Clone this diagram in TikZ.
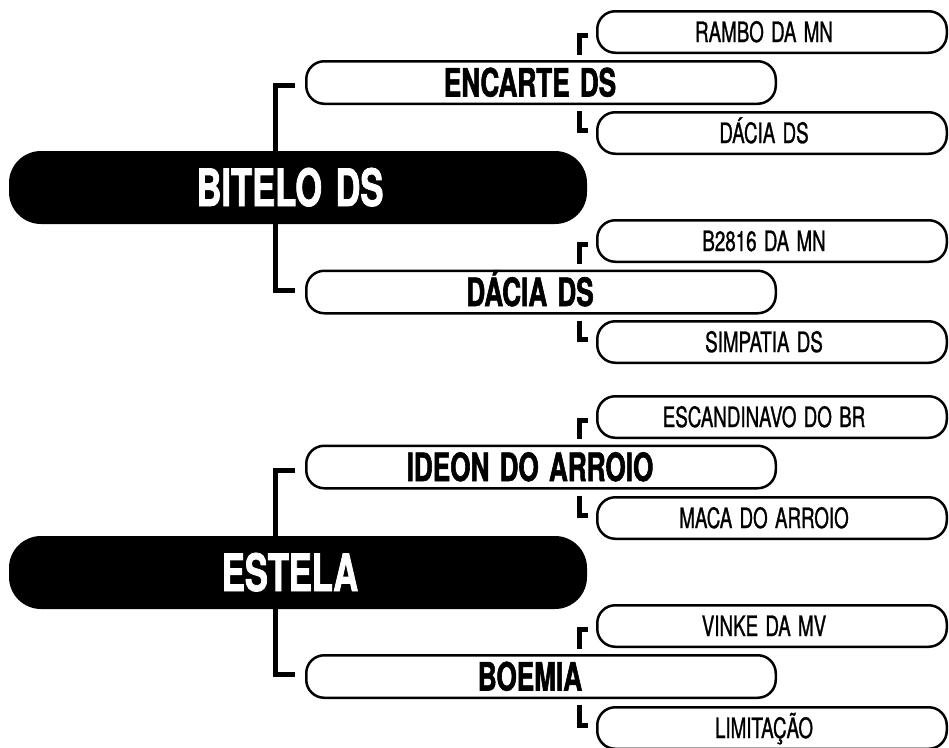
\documentclass[tikz,border=0pt]{standalone}
\usepackage{fontspec}
\newfontfamily\cond{TeX Gyre Heros}[FakeStretch=0.67, FakeBold=1, BoldFeatures={FakeBold=1.5}, WordSpace=1.4]
\usetikzlibrary{positioning}
\pgfdeclarelayer{background}
\pgfsetlayers{background,main}
\tikzset{%
% Specifications for style of boxes:
base/.style = {rectangle, inner sep=0pt, text depth=0pt},
horse/.style = {base, fill=black, text=white, rounded corners=32pt, minimum width=578pt, minimum height=73pt, font=\cond\bfseries\fontsize{51.5}{52}\selectfont, text height=37pt, execute at end node=\hspace*{16pt}},
parent/.style = {base, draw, fill=white, line width=2.5pt, rounded corners=18pt, minimum width=469.5pt, minimum height=42.5pt, font=\cond\bfseries\fontsize{39}{40}\selectfont, text height=28pt, execute at end node=\hspace*{22pt}},
grand/.style = {base, draw, fill=white, line width=2.5pt, rounded corners=18pt, minimum width=349.5pt, minimum height=41.5pt, font=\cond\fontsize{28}{29}\selectfont, text height=20pt, execute at end node=\hspace*{16pt}},
link/.style = {line width=5pt},
sublink/.style = {line width=5pt},
}
\begin{document}
\begin{tikzpicture}[x=1pt, y=-1pt]
        \useasboundingbox (0,0) rectangle (949,747);
        % Specification of boxes (position, etc.)
        \node (bitelo) [horse] at (298,187.5) {BITELO DS};
        \node (encarte) [parent] at (541,82.5) {ENCARTE DS};
        \node (dacia) [parent] at (541,292) {DÁCIA DS};
        \node (rambo) [grand] at (772,32) {RAMBO DA MN};
        \node (daciaDam) [grand] at (772,133) {DÁCIA DS};
        \node (b2816) [grand] at (772,241) {B2816 DA MN};
        \node (simpatia) [grand] at (772,342) {SIMPATIA DS};

        \node (estela) [horse] at (298,572.5) {ESTELA};
        \node (ideon) [parent] at (541,467) {IDEON DO ARROIO};
        \node (boemia) [parent] at (541,676.5) {BOEMIA};
        \node (escandinavo) [grand] at (772,417) {ESCANDINAVO DO BR};
        \node (maca) [grand] at (772,518) {MACA DO ARROIO};
        \node (vinke) [grand] at (772,626) {VINKE DA MV};
        \node (limitacao) [grand] at (772,728) {LIMITAÇÃO};

        \coordinate (col) at ([xshift=-16.5pt]rambo.west);

        \begin{pgfonlayer}{background}
        \draw [link] ([xshift=-10pt,yshift=-3pt]encarte.west) -| ([xshift=-29.5pt,yshift=2pt]dacia.west) -- ([xshift=-10pt,yshift=2pt]dacia.west);
        \draw [link] ([xshift=-10pt,yshift=-3pt]ideon.west) -| ([xshift=-29.5pt,yshift=2pt]boemia.west) -- ([xshift=-10pt,yshift=2pt]boemia.west);
        \end{pgfonlayer}

        \draw [sublink, shorten >=5.5pt] ([xshift=-8pt,yshift=-3pt]rambo.west) -| (col |- encarte.north);
        \draw [sublink, shorten <=6pt] (col |- encarte.south) |- ([xshift=-8pt,yshift=2.5pt]daciaDam.west);
        \draw [sublink, shorten >=5.5pt] ([xshift=-8pt,yshift=-3pt]b2816.west) -| (col |- dacia.north);
        \draw [sublink, shorten <=6pt] (col |- dacia.south) |- ([xshift=-8pt,yshift=2.5pt]simpatia.west);
        \draw [sublink, shorten >=5.5pt] ([xshift=-8pt,yshift=-3pt]escandinavo.west) -| (col |- ideon.north);
        \draw [sublink, shorten <=6pt] (col |- ideon.south) |- ([xshift=-8pt,yshift=2.5pt]maca.west);
        \draw [sublink, shorten >=5.5pt] ([xshift=-8pt,yshift=-3pt]vinke.west) -| (col |- boemia.north);
        \draw [sublink, shorten <=6pt] (col |- boemia.south) |- ([xshift=-8pt,yshift=2.5pt]limitacao.west);
    \end{tikzpicture}
\end{document}
